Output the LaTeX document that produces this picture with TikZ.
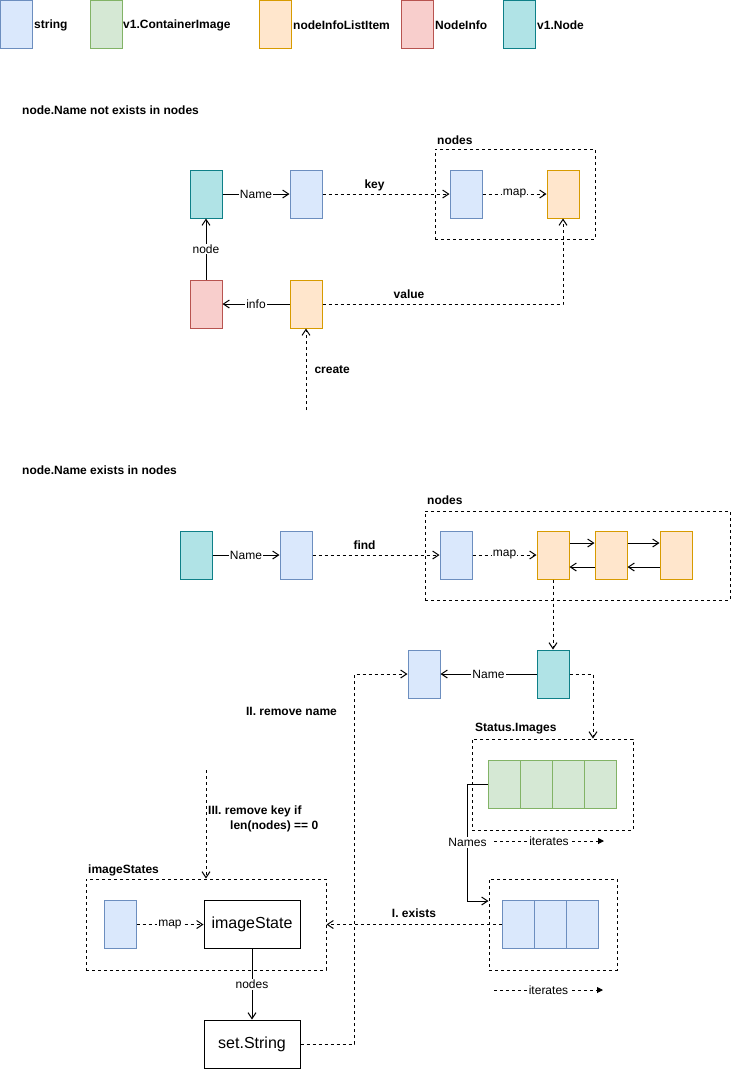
\documentclass[tikz,border=0pt]{standalone}
\usepackage{fontspec}
\setmainfont{Liberation Sans}
\usetikzlibrary{arrows.meta}

\definecolor{strFill}{HTML}{DAE8FC}  \definecolor{strLine}{HTML}{6C8EBF}
\definecolor{imgFill}{HTML}{D5E8D4}  \definecolor{imgLine}{HTML}{82B366}
\definecolor{itemFill}{HTML}{FFE6CC} \definecolor{itemLine}{HTML}{D79B00}
\definecolor{infoFill}{HTML}{F8CECC} \definecolor{infoLine}{HTML}{B85450}
\definecolor{nodeFill}{HTML}{B0E3E6} \definecolor{nodeLine}{HTML}{0E8088}

\tikzset{
  cell/.style={draw, line width=1pt, minimum width=32pt, minimum height=48pt, inner sep=0pt},
  strbox/.style={cell, fill=strFill, draw=strLine},
  imgbox/.style={cell, fill=imgFill, draw=imgLine},
  itembox/.style={cell, fill=itemFill, draw=itemLine},
  infobox/.style={cell, fill=infoFill, draw=infoLine},
  nodebox/.style={cell, fill=nodeFill, draw=nodeLine},
  bigbox/.style={draw, line width=1pt, fill=white, minimum width=96pt, minimum height=48pt,
    inner sep=0pt, font=\fontsize{16}{19}\selectfont},
  group/.style={draw, line width=1pt, dash pattern=on 3pt off 3pt, inner sep=0pt},
  bold/.style={inner sep=0pt, font=\fontsize{12}{15}\selectfont\bfseries},
  lbl/.style={fill=white, inner sep=1pt, font=\fontsize{12}{15}\selectfont},
  conn/.style={line width=1pt, -{Straight Barb[length=6pt,width=8pt]}},
  dconn/.style={conn, dash pattern=on 3pt off 3pt},
  iter/.style={line width=1pt, dash pattern=on 3pt off 3pt, -{Triangle[length=6pt,width=6pt]}},
}

\begin{document}
\begin{tikzpicture}[x=1pt, y=-1pt]
\useasboundingbox (0,0) rectangle (731,1069);

% ---- legend ----
\node[strbox]  (lgStr)  at (16.5,24.5) {};
\node[bold, anchor=west] (lgStrT) at (34,25) {string};
\node[imgbox]  (lgImg)  at (106.5,24.5) {};
\node[bold, anchor=west] (lgImgT) at (123,25) {v1.ContainerImage};
\node[itembox] (lgItem) at (275.5,24.5) {};
\node[bold, anchor=west] (lgItemT) at (293,25) {nodeInfoListItem};
\node[infobox] (lgInfo) at (417.5,24.5) {};
\node[bold, anchor=west] (lgInfoT) at (435,25) {NodeInfo};
\node[nodebox] (lgNode) at (519.5,24.5) {};
\node[bold, anchor=west] (lgNodeT) at (537,25) {v1.Node};

% ---- case 1: name not yet stored ----
\node[bold, anchor=west] (title1) at (22,110) {node.Name not exists in nodes};

\node[group, minimum width=160pt, minimum height=90pt] (tmap) at (515,194) {};
\node[bold, anchor=west] (tmapT) at (437,140) {nodes};
\node[nodebox] (tnode) at (206,194) {};
\node[strbox]  (tname) at (306,194) {};
\node[strbox]  (tkey)  at (466,194) {};
\node[itembox] (tval)  at (563,194) {};
\node[infobox] (tinfo) at (206,304) {};
\node[itembox] (titem) at (306,304) {};
\coordinate (tstart) at (306,410);

\draw[conn] (tnode.east) -- node[lbl]{Name} (tname.west);
\draw[dconn] (tname.east) -- node[bold, pos=0.41, yshift=9pt]{key} (tkey.west);
\draw[dconn] (tkey.east) -- node[lbl]{map} (tval.west);
\draw[conn] (tinfo.north) -- node[lbl]{node} (tnode.south);
\draw[conn] (titem.west) -- node[lbl]{info} (tinfo.east);
\draw[dconn] (titem.east) -| node[bold, pos=0.18, yshift=10pt]{value} (tval.south);
\draw[dconn] (tstart) -- node[bold, right=8pt]{create} (titem.south);

% ---- case 2: name already stored ----
\node[bold, anchor=west] (title2) at (22,470) {node.Name exists in nodes};

\node[group, minimum width=305pt, minimum height=89pt] (mmap) at (577.5,555.5) {};
\node[bold, anchor=west] (mmapT) at (427,500) {nodes};
\node[nodebox] (mnode) at (196,555) {};
\node[strbox]  (mname) at (296,555) {};
\node[strbox]  (mkey)  at (456,555) {};
\node[itembox] (mi1)   at (553,555) {};
\node[itembox] (mi2)   at (611,555) {};
\node[itembox] (mi3)   at (676,555) {};
\node[nodebox] (fnode) at (553,674) {};
\node[strbox]  (fname) at (424,674) {};

\draw[conn] (mnode.east) -- node[lbl]{Name} (mname.west);
\draw[dconn] (mname.east) -- node[bold, pos=0.41, yshift=10pt]{find} (mkey.west);
\draw[dconn] (mkey.east) -- node[lbl]{map} (mi1.west);
\draw[conn] ([yshift=12pt]mi1.east) -- ([yshift=12pt]mi2.west);
\draw[conn] ([yshift=12pt]mi2.east) -- ([yshift=12pt]mi3.west);
\draw[conn] ([yshift=-12pt]mi2.west) -- ([yshift=-12pt]mi1.east);
\draw[conn] ([yshift=-12pt]mi3.west) -- ([yshift=-12pt]mi2.east);
\draw[dconn] (mi1.south) -- (fnode.north);
\draw[conn] (fnode.west) -- node[lbl]{Name} (fname.east);

% image list of the node
\node[group, minimum width=161pt, minimum height=91pt] (simg) at (552.5,784.5) {};
\node[bold, anchor=west] (simgT) at (475,729) {Status.Images};
\node[imgbox] (g1) at (504,784) {};
\node[imgbox] (g2) at (536,784) {};
\node[imgbox] (g3) at (568,784) {};
\node[imgbox] (g4) at (600,784) {};
\draw[dconn] (fnode.east) -| ([xshift=40.5pt]simg.north);

\coordinate (it1a) at (494,841);
\coordinate (it1b) at (604,841);
\draw[iter] (it1a) -- node[lbl]{iterates} (it1b);

% image names
\node[group, minimum width=128pt, minimum height=91pt] (bcont) at (553,924.5) {};
\node[strbox] (b1) at (518,924.5) {};
\node[strbox] (b2) at (550,924.5) {};
\node[strbox] (b3) at (582,924.5) {};
\draw[conn] (g1.west) -- ++(-20,0) |- node[lbl, pos=0.25]{Names} ([yshift=23.5pt]bcont.west);

\coordinate (it2a) at (494,990);
\coordinate (it2b) at (603,990);
\draw[iter] (it2a) -- node[lbl]{iterates} (it2b);

% image states
\node[group, minimum width=240pt, minimum height=91pt] (iscont) at (206,924.5) {};
\node[bold, anchor=west] (iscontT) at (88,870) {imageStates};
\node[strbox] (isKey) at (120,924.5) {};
\node[bigbox] (isState) at (252,924.5) {imageState};
\node[bigbox] (setS) at (252,1044) {set.String};

\draw[dconn] (isKey.east) -- node[lbl]{map} (isState.west);
\draw[conn] (isState.south) -- node[lbl]{nodes} (setS.north);
\draw[dconn] (b1.west) -- node[bold, yshift=11pt]{I. exists} (iscont.east);
\draw[dconn] (setS.east) -- ++(54,0) |- (fname.west);

\node[bold] (rmName) at (291.5,711) {II. remove name};
\coordinate (s3) at (206,770);
\draw[dconn] (s3) -- (iscont.north);
\node[bold, anchor=west, align=left] (rmKey) at (208,819)
  {III. remove key if\\\hspace*{22pt}len(nodes) == 0};
\end{tikzpicture}
\end{document}
